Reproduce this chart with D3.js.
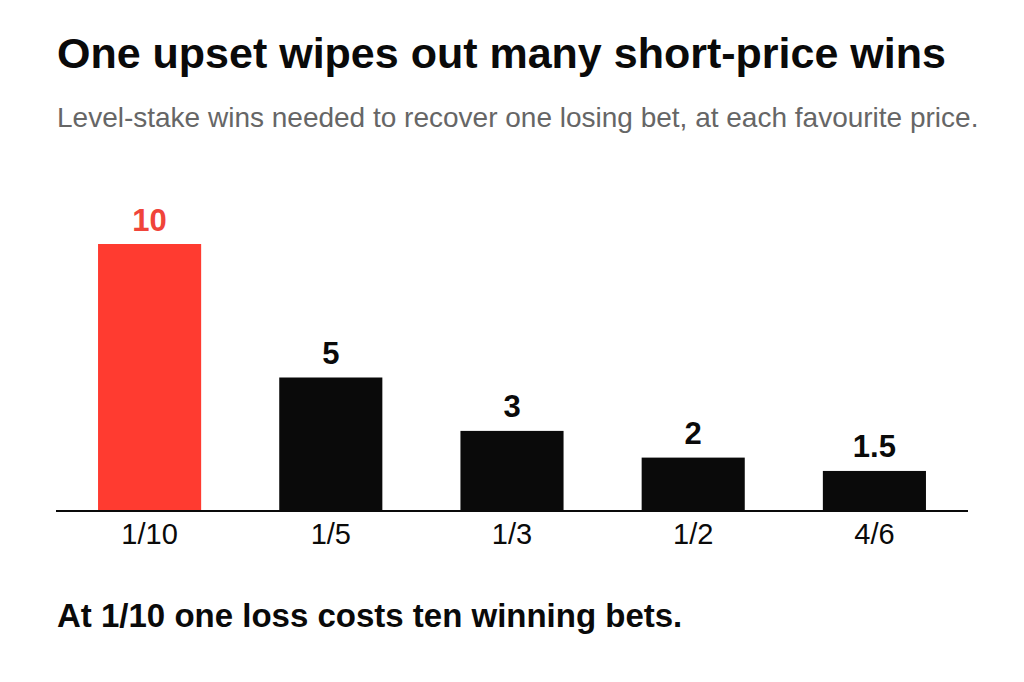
<!DOCTYPE html>
<html>
<head>
<meta charset="utf-8">
<script src="https://cdn.jsdelivr.net/npm/d3@7"></script>
<style>
html,body{margin:0;padding:0;background:#fff;}
svg{display:block;font-family:"Liberation Sans",Arial,sans-serif;}
</style>
</head>
<body>
<svg id="chart" width="1024" height="682"></svg>
<script>
const prices = ["1/10","1/5","1/3","1/2","4/6"];
const winsNeeded = [10,5,3,2,1.5];
const valueLabels = ["10","5","3","2","1.5"];
const titleText = "One upset wipes out many short-price wins";
const subtitleText = "Level-stake wins needed to recover one losing bet, at each favourite price.";
const footerText = "At 1/10 one loss costs ten winning bets.";

const svg = d3.select("#chart");
const left = 56, right = 968, baseline = 511, unitTop = 244;

const x = d3.scaleBand().domain(prices).range([left, right]).paddingInner(0.431).paddingOuter(0.232);
const y = d3.scaleLinear().domain([0, 10]).range([baseline, unitTop]);

svg.append("text").attr("x", 57).attr("y", 68).attr("font-size", 43).attr("font-weight", "bold")
  .attr("fill", "#0a0a0a").text(titleText);
svg.append("text").attr("x", 57).attr("y", 126.5).attr("font-size", 28)
  .attr("fill", "#666").text(subtitleText);

const data = prices.map((p, i) => ({p, v: winsNeeded[i], l: valueLabels[i]}));

svg.selectAll("rect.bar").data(data).join("rect").attr("class", "bar")
  .attr("x", d => x(d.p)).attr("width", x.bandwidth())
  .attr("y", d => y(d.v)).attr("height", d => baseline - y(d.v))
  .attr("fill", (d, i) => i === 0 ? "#ff3b30" : "#0a0a0a");

svg.selectAll("text.val").data(data).join("text").attr("class", "val")
  .attr("x", d => x(d.p) + x.bandwidth() / 2).attr("y", d => y(d.v) - 13.5)
  .attr("text-anchor", "middle").attr("font-size", 31).attr("font-weight", "bold")
  .attr("fill", (d, i) => i === 0 ? "#f0443a" : "#0a0a0a").text(d => d.l);

const axis = svg.append("g").attr("transform", `translate(0,${baseline})`)
  .call(d3.axisBottom(x).tickSize(0).tickPadding(0));
axis.select(".domain").attr("stroke", "#0a0a0a").attr("stroke-width", 2)
  .attr("d", `M${left},0H${right}`);
axis.selectAll(".tick text").attr("font-size", 29).attr("fill", "#0a0a0a")
  .attr("font-family", "Liberation Sans, Arial, sans-serif").attr("dy", null).attr("y", 32.5);

svg.append("text").attr("x", 57).attr("y", 627).attr("font-size", 33).attr("font-weight", "bold")
  .attr("fill", "#0a0a0a").text(footerText);
</script>
</body>
</html>
